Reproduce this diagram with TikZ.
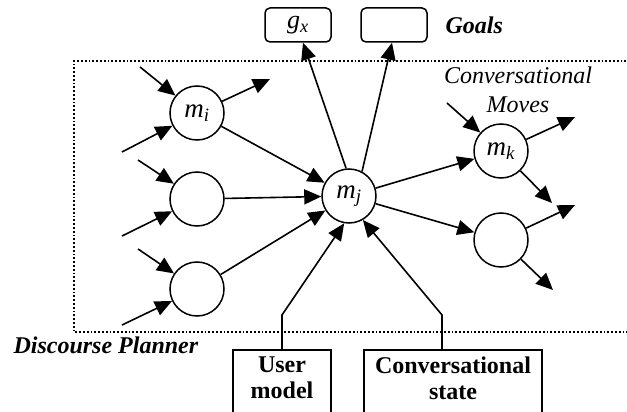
\documentclass[tikz,border=0pt]{standalone}
\usepackage{fontspec}
\setmainfont{Liberation Serif}[ItalicFont={Liberation Serif Italic},BoldItalicFont={Liberation Serif Bold Italic}]
\usetikzlibrary{arrows.meta,calc}
\tikzset{
  move/.style={draw,circle,line width=1.5pt,minimum size=54pt,inner sep=0pt,font=\fontsize{27}{30}\selectfont},
  goalbox/.style={draw,rounded corners=5pt,line width=1.5pt,minimum width=66pt,minimum height=34pt,inner sep=0pt,font=\fontsize{26}{30}\selectfont},
  srcbox/.style={draw,line width=1.5pt,align=center,anchor=north,inner sep=7pt,font=\fontsize{24}{26}\selectfont\bfseries},
  arr/.style={line width=1.6pt,-{Triangle[length=17pt,width=15pt]}},
  label/.style={font=\fontsize{24}{26}\selectfont\bfseries\itshape}
}
\newcommand{\mv}[1]{\textit{m}\textsubscript{\textit{#1}}}
\begin{document}
\begin{tikzpicture}[x=1pt,y=-1pt,font=\fontsize{24}{26}\selectfont]
\clip (0,0) rectangle (627,412);
\draw[dotted,line width=1.8pt] (630,61) -- (74,61) -- (74,332) -- (630,332);
\node[move] (mi) at (197,113) {\mv{i}};
\node[move] (ma) at (197,199) {};
\node[move] (mb) at (197,289) {};
\node[move] (mj) at (349,196) {\mv{j}};
\node[move] (mk) at (501,151) {\mv{k}};
\node[move] (mc) at (501,240) {};
\node[goalbox] (gx) at (298,25) {\textit{g}\textsubscript{\textit{x}}};
\node[goalbox] (gy) at (394,25) {};
\node[label,anchor=west] (goals) at (442,25) {Goals};
\node[align=center,font=\fontsize{24}{29}\selectfont\itshape] (cmoves) at (518,90) {Conversational\\Moves};
\node[label,anchor=west] (dp) at (10,345) {Discourse Planner};
\node[srcbox,minimum width=98pt] (um) at (282,349) {User\\model\\~};
\node[srcbox,minimum width=178pt] (cs) at (453,349) {Conversational\\state\\~};
\coordinate (ia1) at (140,67);
\coordinate (ia2) at (122,152);
\coordinate (oa1) at (270,79);
\coordinate (ib1) at (138,160);
\coordinate (ib2) at (122,236);
\coordinate (ic1) at (138,249);
\coordinate (ic2) at (122,325);
\coordinate (ik1) at (447,103);
\coordinate (ok1) at (575,117);
\coordinate (ok2) at (552,203);
\coordinate (oc1) at (575,205);
\coordinate (oc2) at (553,290);
\draw[arr] (ia1) -- (mi);
\draw[arr] (ia2) -- (mi);
\draw[arr] (mi) -- (oa1);
\draw[arr] (ib1) -- (ma);
\draw[arr] (ib2) -- (ma);
\draw[arr] (ic1) -- (mb);
\draw[arr] (ic2) -- (mb);
\draw[arr] (mi) -- (mj);
\draw[arr] (ma) -- (mj);
\draw[arr] (mb) -- (mj);
\draw[arr] (mj.96) -- ($(gx.south)+(5,0)$);
\draw[arr] (mj.62) -- ($(gy.south)+(-2,0)$);
\draw[arr] (mj) -- (mk);
\draw[arr] (mj) -- (mc);
\draw[arr] (ik1) -- (mk);
\draw[arr] (mk) -- (ok1);
\draw[arr] (mk) -- (ok2);
\draw[arr] (mc) -- (oc1);
\draw[arr] (mc) -- (oc2);
\draw[arr] (um.north) -- ++(0,-34) -- (mj.260);
\draw[arr] ($(cs.north)+(-11,0)$) -- ++(0,-34) -- (mj.300);
\end{tikzpicture}
\end{document}
